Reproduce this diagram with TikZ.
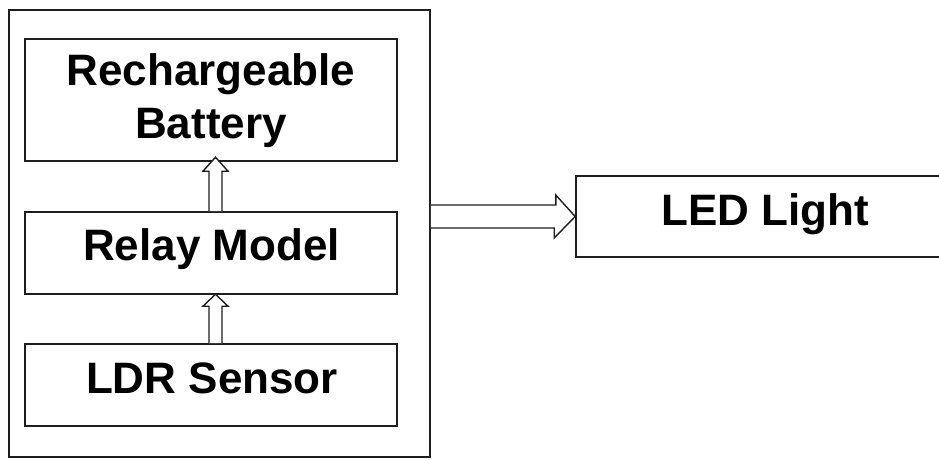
\documentclass[tikz,border=0pt]{standalone}
\usepackage{fontspec}
\setmainfont{Liberation Sans}
\usetikzlibrary{calc}
\definecolor{ink}{HTML}{1E1E1E}
\tikzset{
  box/.style={draw=ink, line width=1.6pt, fill=white, inner sep=0pt},
  label/.style={font=\fontsize{44}{53}\selectfont\bfseries, text=black, inner sep=0pt, anchor=base},
  fat/.style={draw=ink, line width=1.4pt, fill=white, line join=miter}
}
\begin{document}
\begin{tikzpicture}[x=1pt,y=1pt]
\useasboundingbox (0,0) rectangle (939,-459);
\clip (0,0) rectangle (939,-459);
\fill[white] (0,0) rectangle (939,-459);

% enclosing unit
\node[box, minimum width=421, minimum height=447] (sys) at (219.5,-233.5) {};

% blocks inside the unit
\node[box, minimum width=372, minimum height=122] (bat) at (211,-100) {};
\node[box, minimum width=372, minimum height=82] (relay) at (211,-253) {};
\node[box, minimum width=372, minimum height=82] (ldr) at (211,-385) {};

% output block
\node[box, minimum width=384, minimum height=81] (led) at (768,-216.5) {};

% block labels, placed on their baselines
\node[label] (battxt1) at ($(bat.center)+(0,15)$) {Rechargeable};
\node[label] (battxt2) at ($(bat.center)+(0,-38)$) {Battery};
\node[label] (relaytxt) at ($(relay.center)+(0.5,-7)$) {Relay Model};
\node[label] (ldrtxt) at ($(ldr.center)+(1,-8)$) {LDR Sensor};
\node[label] (ledtxt) at ($(led.west)+(190,-8.5)$) {LED Light};

% hollow arrows
\draw[fat] ($(relay.north)+(-2,0)$) -- ++(0,40) -- ++(-6,0) -- ++(12.5,14)
  -- ++(12.5,-14) -- ++(-6,0) -- ++(0,-40);
\draw[fat] ($(ldr.north)+(-2,0)$) -- ++(0,37) -- ++(-6,0) -- ++(12.5,12)
  -- ++(12.5,-12) -- ++(-6,0) -- ++(0,-37);
\draw[fat] ($(sys.east |- led.west)+(0,11.5)$) -- ++(125,0) -- ++(0,10)
  -- (led.west) -- ++(-21,-21.5) -- ++(0,10) -- ($(sys.east |- led.west)+(0,-11.5)$);
\end{tikzpicture}
\end{document}
